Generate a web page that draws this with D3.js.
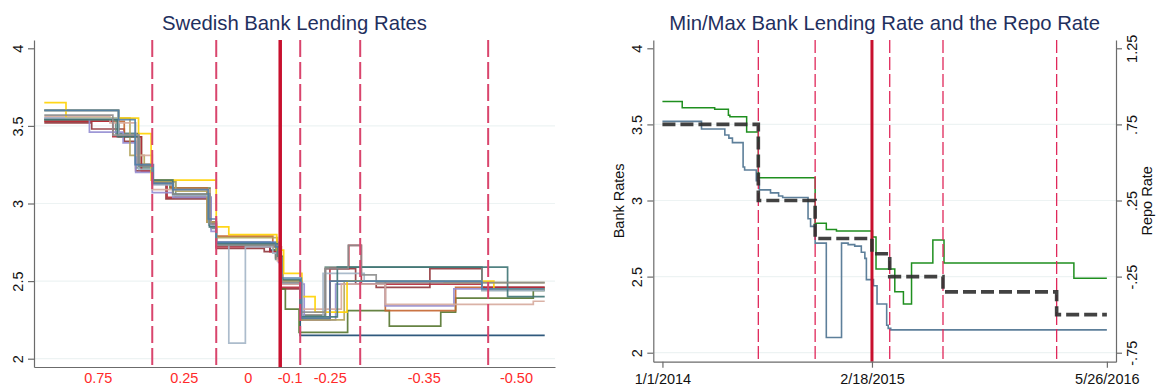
<!DOCTYPE html>
<html>
<head>
<meta charset="utf-8">
<script src="https://cdn.jsdelivr.net/npm/d3@7"></script>
<style>
  body { margin: 0; background: #fff; }
  svg { font-family: "Liberation Sans", Arial, sans-serif; }
</style>
</head>
<body>
<svg id="chart" width="1161" height="390"></svg>
<script>
// repo rate decisions (effective dates) and the level after each one
const repoDates = ["2014-01-01", "2014-07-09", "2014-10-29", "2015-02-18", "2015-03-25", "2015-07-08", "2016-02-17"];
const repoRates = [0.75, 0.25, 0, -0.1, -0.25, -0.35, -0.5];
const repoLabels = ["0.75", "0.25", "0", "-0.1", "-0.25", "-0.35", "-0.50"];
const negativeDate = "2015-02-18";
const startDate = "2014-01-01";
const endDate = "2016-05-26";
const dateTicks = ["2014-01-01", "2015-02-18", "2016-05-26"];
const bankTicks = [2, 2.5, 3, 3.5, 4];
const repoTicks = [-0.75, -0.25, 0.25, 0.75, 1.25];
const repoTickLabels = ["-.75", "-.25", ".25", ".75", "1.25"];

// individual bank lending rates (date of change, new rate)
const bank01 = [["2014-01-01",3.60],["2014-05-11",3.45],["2014-06-15",3.25],["2014-07-09",3.15],["2014-08-14",3.05],["2014-10-18",2.88],["2014-10-29",2.75],["2015-01-31",2.70],["2015-02-18",2.50],["2015-03-25",2.15]];
const bank02 = [["2014-01-01",3.52],["2014-03-25",3.48],["2014-05-21",3.40],["2014-06-10",3.21],["2014-07-09",3.13],["2014-08-02",3.03],["2014-10-17",2.86],["2014-10-29",2.71],["2015-01-21",2.69],["2015-02-10",2.65],["2015-02-18",2.45],["2015-03-25",2.28],["2015-05-08",2.58],["2015-06-30",2.48],["2015-08-05",2.46],["2015-11-07",2.58],["2016-02-06",2.46]];
const bank03 = [["2014-01-01",3.54],["2014-05-11",3.43],["2014-06-20",3.22],["2014-07-09",3.14],["2014-08-09",3.10],["2014-10-18",2.88],["2014-10-29",2.74],["2015-02-05",2.70],["2015-02-18",2.45],["2015-02-27",2.32],["2015-03-23",2.17],["2015-06-16",2.31],["2015-08-28",2.21],["2015-11-26",2.30],["2015-12-22",2.39],["2016-05-06",2.44]];
const bank04 = [["2014-01-01",3.53],["2014-05-21",3.44],["2014-06-15",3.25],["2014-07-09",3.14],["2014-08-11",3.10],["2014-10-13",2.88],["2014-10-29",2.79],["2015-02-05",2.72],["2015-02-20",2.50],["2015-03-27",2.26],["2015-05-16",2.50],["2015-08-21",2.31],["2015-12-22",2.46],["2016-02-10",2.45]];
const bank05 = [["2014-01-01",3.54],["2014-05-06",3.45],["2014-06-10",3.23],["2014-07-09",3.14],["2014-08-19",3.04],["2014-10-20",2.84],["2014-10-29",2.73],["2015-02-10",2.64],["2015-02-20",2.48],["2015-03-27",2.28],["2015-05-08",2.59],["2016-02-06",2.44]];
const bank06 = [["2014-01-01",3.53],["2014-05-01",3.43],["2014-06-20",3.21],["2014-07-10",3.13],["2014-08-04",3.04],["2014-10-16",2.87],["2014-10-29",2.72],["2015-01-31",2.69],["2015-02-19",2.46],["2015-03-27",2.25],["2015-05-16",2.58],["2015-06-18",2.73],["2015-07-10",2.48],["2016-02-06",2.46]];
const bank07 = [["2014-01-01",3.55],["2014-03-21",3.46],["2014-05-19",3.39],["2014-06-10",3.20],["2014-07-09",3.07],["2014-08-14",3.04],["2014-10-20",2.82],["2014-10-29",2.75],["2015-02-15",2.62],["2015-02-21",2.48],["2015-04-01",2.25],["2015-05-26",2.48],["2015-08-21",2.34],["2015-12-19",2.45]];
const bank08 = [["2014-01-01",3.60],["2014-05-11",3.55],["2014-05-31",3.31],["2014-06-25",3.25],["2014-07-09",3.14],["2014-08-19",3.08],["2014-10-13",2.88],["2014-10-29",2.78],["2015-02-13",2.66],["2015-02-23",2.50],["2015-03-27",2.25],["2015-06-10",2.50],["2015-12-02",2.49]];
const bank09 = [["2014-01-01",3.56],["2014-04-26",3.52],["2014-06-10",3.31],["2014-07-09",3.09],["2014-10-18",2.85],["2014-10-29",2.74],["2015-02-13",2.63],["2015-02-21",2.48],["2015-03-25",2.32],["2015-06-05",2.48],["2015-08-21",2.35],["2016-05-06",2.37]];
const bank10 = [["2014-01-01",3.65],["2014-02-08",3.55],["2014-06-15",3.45],["2014-07-07",3.15],["2014-10-29",2.85],["2014-11-20",2.80],["2015-02-12",2.70],["2015-02-24",2.55],["2015-03-28",2.40],["2015-04-20",2.30],["2015-06-15",2.50],["2016-02-27",2.45]];
const bank11 = [["2014-01-01",3.55],["2014-05-11",3.44],["2014-06-15",3.22],["2014-07-09",3.12],["2014-08-14",3.05],["2014-10-16",2.86],["2014-10-29",2.74],["2014-11-20",2.10],["2014-12-19",2.72],["2015-02-05",2.68],["2015-02-19",2.49],["2015-03-29",2.27],["2015-05-04",2.55],["2015-07-15",2.50],["2016-02-06",2.44]];
const bank12 = [["2014-01-01",3.54],["2014-05-09",3.43],["2014-06-15",3.24],["2014-07-09",3.15],["2014-08-14",3.06],["2014-10-17",2.85],["2014-10-29",2.74],["2015-02-13",2.66],["2015-02-21",2.51],["2015-03-25",2.27],["2015-05-29",2.59],["2016-03-22",2.40]];
const bank13 = [["2014-01-01",3.57],["2014-05-01",3.44],["2014-06-15",3.24],["2014-07-09",3.13],["2014-08-14",3.06],["2014-10-18",2.87],["2014-10-29",2.73],["2015-02-15",2.65],["2015-02-21",2.49],["2015-03-27",2.30],["2015-05-08",2.58],["2015-06-17",2.73],["2015-07-10",2.54],["2015-08-05",2.49]];
const bank14 = [["2014-01-01",3.60],["2014-05-11",3.54],["2014-06-09",3.25],["2014-07-11",3.13],["2014-08-14",3.09],["2014-10-15",2.90],["2014-10-29",2.75],["2015-02-10",2.72],["2015-02-19",2.52],["2015-03-27",2.26],["2015-05-16",2.50],["2016-02-06",2.45]];
const banks = [bank01, bank02, bank03, bank04, bank05, bank06, bank07, bank08, bank09, bank10, bank11, bank12, bank13, bank14];

// highest and lowest bank rate
const maxRate = [["2014-01-01",3.65],["2014-02-09",3.61],["2014-04-14",3.60],["2014-05-11",3.56],["2014-05-14",3.55],["2014-06-16",3.45],["2014-07-09",3.15],["2014-10-29",2.85],["2014-11-20",2.81],["2014-12-10",2.80],["2015-02-19",2.76],["2015-02-26",2.55],["2015-04-04",2.40],["2015-04-21",2.32],["2015-05-07",2.59],["2015-06-18",2.74],["2015-07-10",2.59],["2016-03-22",2.49]];
const minRate = [["2014-01-01",3.52],["2014-03-19",3.47],["2014-05-04",3.43],["2014-05-12",3.41],["2014-05-19",3.38],["2014-06-09",3.22],["2014-06-12",3.20],["2014-07-05",3.13],["2014-07-11",3.07],["2014-08-02",3.05],["2014-08-18",3.03],["2014-08-26",3.02],["2014-10-15",2.88],["2014-10-20",2.83],["2014-10-29",2.72],["2014-11-20",2.10],["2014-12-20",2.72],["2015-01-02",2.71],["2015-01-15",2.70],["2015-01-28",2.66],["2015-02-04",2.62],["2015-02-07",2.48],["2015-02-21",2.44],["2015-02-28",2.32],["2015-03-19",2.18],["2015-03-22",2.16],["2015-03-27",2.15]];

const bankColors = ["#1a476f", "#90353b", "#55752f", "#c4652f", "#6e8e84", "#b52a3a", "#938dd2",
                    "#b3a45c", "#d6aa9c", "#ffd200", "#a3b5c6", "#3e7474", "#8d8d8d", "#4f7ea8"];

const parse = d3.utcParse("%Y-%m-%d");
const fmtDate = d3.utcFormat("%-m/%-d/%Y");
const xDomain = [parse("2013-12-14"), parse("2016-06-13")];
const svg = d3.select("#chart");

// extend a step series to the end date
function steps(series) {
    const pts = series.map(d => ({date: parse(d[0]), value: d[1]}));
    pts.push({date: parse(endDate), value: series[series.length - 1][1]});
    return pts;
}

function title(x, text) {
    svg.append("text")
        .attr("x", x).attr("y", 29.5)
        .attr("text-anchor", "middle")
        .style("font-size", "20.3px")
        .style("fill", "#1f2f5e")
        .text(text);
}

function gridlines(box, y) {
    svg.append("g").selectAll("line")
        .data(bankTicks.filter(v => v < 4))
        .enter().append("line")
        .attr("x1", box.x0).attr("x2", box.x1)
        .attr("y1", d => y(d)).attr("y2", d => y(d))
        .attr("stroke", "#edf3f3").attr("stroke-width", 1.2);
}

function repoLines(box, x, dashColor, dashWidth, dash, solidWidth) {
    svg.append("g").selectAll("line")
        .data(repoDates.slice(1))
        .enter().append("line")
        .attr("x1", d => x(parse(d))).attr("x2", d => x(parse(d)))
        .attr("y1", box.y0).attr("y2", box.y1)
        .attr("stroke", d => d === negativeDate ? "#c8102e" : dashColor)
        .attr("stroke-width", d => d === negativeDate ? solidWidth : dashWidth)
        .attr("stroke-dasharray", d => d === negativeDate ? null : dash);
}

function styleAxis(g) {
    g.select(".domain").attr("stroke", "#6b6b6b").attr("stroke-width", 1.2);
    g.selectAll(".tick line").attr("stroke", "#6b6b6b").attr("stroke-width", 1.2);
    g.selectAll("text").style("font-size", "14.5px").style("fill", "#111");
}

function leftYAxis(box, y) {
    const g = svg.append("g")
        .attr("transform", `translate(${box.x0},0)`)
        .call(d3.axisLeft(y).tickValues(bankTicks).tickSize(6).tickSizeOuter(0).tickFormat(d3.format("")));
    g.selectAll("text")
        .attr("x", 0).attr("y", -11.5).attr("dy", 0)
        .attr("transform", "rotate(-90)")
        .style("text-anchor", "middle");
    styleAxis(g);
    return g;
}

function swedishBanks() {
    const box = {x0: 34, x1: 555, y0: 40, y1: 367};
    const x = d3.scaleUtc().domain(xDomain).range([box.x0, box.x1]);
    const y = d3.scaleLinear().domain([1.9465, 4.0535]).range([box.y1, box.y0]);

    title((box.x0 + box.x1) / 2, "Swedish Bank Lending Rates");
    gridlines(box, y);

    const line = d3.line()
        .x(d => x(d.date)).y(d => y(d.value))
        .curve(d3.curveStepAfter);

    svg.append("g").selectAll("path")
        .data(banks)
        .enter().append("path")
        .attr("d", d => line(steps(d)))
        .attr("fill", "none")
        .attr("stroke", (d, i) => bankColors[i])
        .attr("stroke-width", 1.7)
        .attr("stroke-opacity", 0.9);

    repoLines(box, x, "#d9456d", 2, "17,5", 3.5);
    leftYAxis(box, y);

    const gx = svg.append("g")
        .attr("transform", `translate(0,${box.y1})`)
        .call(d3.axisBottom(x).tickValues([]).tickSizeOuter(0));
    styleAxis(gx);

    // repo rate of each period, written in the middle of it
    const bounds = repoDates.concat([endDate]).map(parse);
    svg.append("g").selectAll("text")
        .data(repoLabels)
        .enter().append("text")
        .attr("x", (d, i) => (x(bounds[i]) + x(bounds[i + 1])) / 2)
        .attr("y", 383)
        .attr("text-anchor", "middle")
        .style("font-size", "14.5px")
        .style("fill", "#ff2a2a")
        .text(d => d);
}

function minMaxRepo() {
    const box = {x0: 653.3, x1: 1116, y0: 40, y1: 361.7};
    const x = d3.scaleUtc().domain(xDomain).range([box.x0, box.x1]);
    const y = d3.scaleLinear().domain([1.941, 4.0545]).range([box.y1, box.y0]);
    const yRepo = d3.scaleLinear().domain([1.941 - 2.75, 4.0545 - 2.75]).range([box.y1, box.y0]);

    title((box.x0 + box.x1) / 2, "Min/Max Bank Lending Rate and the Repo Rate");
    gridlines(box, y);

    const line = d3.line()
        .x(d => x(d.date)).y(d => y(d.value))
        .curve(d3.curveStepAfter);
    const repoLine = d3.line()
        .x(d => x(d.date)).y(d => yRepo(d.value))
        .curve(d3.curveStepAfter);

    svg.append("path")
        .attr("d", line(steps(maxRate)))
        .attr("fill", "none").attr("stroke", "#1f8f1f").attr("stroke-width", 1.5);
    svg.append("path")
        .attr("d", line(steps(minRate)))
        .attr("fill", "none").attr("stroke", "#5d7f9a").attr("stroke-width", 1.6);

    repoLines(box, x, "#e0285a", 1.3, "13,4", 3);

    svg.append("path")
        .attr("d", repoLine(steps(repoDates.map((d, i) => [d, repoRates[i]]))))
        .attr("fill", "none")
        .attr("stroke", "#2e2e2e")
        .attr("stroke-width", 3.6)
        .attr("stroke-dasharray", "13,5")
        .attr("stroke-opacity", 0.9);

    leftYAxis(box, y);

    const gr = svg.append("g")
        .attr("transform", `translate(${box.x1},0)`)
        .call(d3.axisRight(yRepo).tickValues(repoTicks).tickSize(6).tickSizeOuter(0)
            .tickFormat((d, i) => repoTickLabels[i]));
    gr.selectAll("text")
        .attr("x", 0).attr("y", 20.5).attr("dy", 0)
        .attr("transform", "rotate(-90)")
        .style("text-anchor", "middle");
    styleAxis(gr);

    const gx = svg.append("g")
        .attr("transform", `translate(0,${box.y1})`)
        .call(d3.axisBottom(x).tickValues(dateTicks.map(parse)).tickSize(6).tickSizeOuter(0)
            .tickFormat(fmtDate));
    gx.selectAll("text").attr("y", 9).attr("dy", "0.95em");
    styleAxis(gx);

    svg.append("text")
        .attr("transform", `translate(624,${(box.y0 + box.y1) / 2}) rotate(-90)`)
        .attr("text-anchor", "middle")
        .style("font-size", "14.5px").style("fill", "#111")
        .text("Bank Rates");
    svg.append("text")
        .attr("transform", `translate(1151.5,${(box.y0 + box.y1) / 2}) rotate(-90)`)
        .attr("text-anchor", "middle")
        .style("font-size", "14.5px").style("fill", "#111")
        .text("Repo Rate");
}

swedishBanks();
minMaxRepo();
</script>
</body>
</html>
